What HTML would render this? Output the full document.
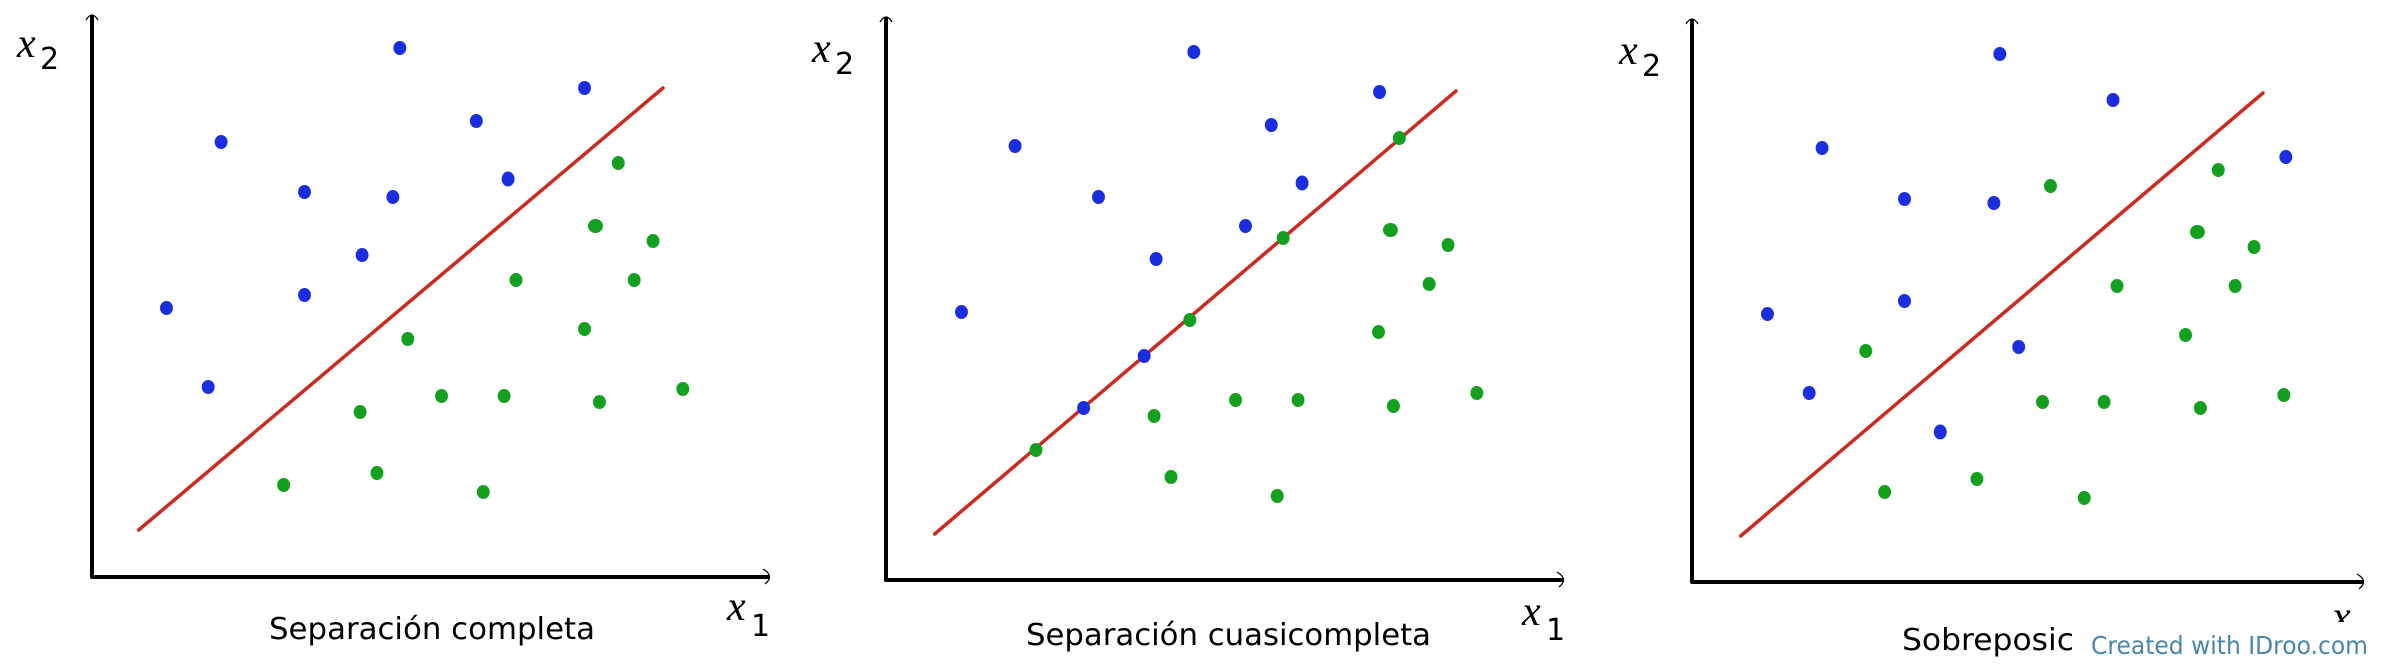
<!DOCTYPE html>
<html><head><meta charset="utf-8"><style>html,body{margin:0;padding:0;background:#fff}svg{display:block}</style></head><body>
<svg width="2382" height="667" viewBox="0 0 2382 667" xmlns="http://www.w3.org/2000/svg">
<g stroke="#000" stroke-width="4" fill="none" stroke-linecap="round">
<path d="M92 577 V17 M92 577 H768"/>
<path d="M886 580 V19 M886 580 H1562"/>
<path d="M1692 582 V21 M1692 582 H2362"/>
</g>
<g stroke="#000" stroke-width="1.3" fill="none">
<path d="M86 20 Q92 10 98 20"/><path d="M763 569 Q775 576 765 584"/>
<path d="M880 22 Q886 12 892 22"/><path d="M1557 572 Q1569 579 1559 587"/>
<path d="M1686 24 Q1692 14 1698 24"/><path d="M2357 574 Q2369 581 2359 589"/>
</g>
<g transform="translate(92 0) scale(0.993 1) translate(-92 0)">
<line x1="139" y1="530" x2="667" y2="88" stroke="#cc2a1e" stroke-width="3.5" stroke-linecap="round"/>
<g fill="#1a2ee0">
<ellipse cx="402" cy="48" rx="6.5" ry="7"/><ellipse cx="588" cy="88" rx="6.5" ry="7"/><ellipse cx="479" cy="121" rx="6.5" ry="7"/><ellipse cx="222" cy="142" rx="6.5" ry="7"/><ellipse cx="511" cy="179" rx="6.5" ry="7.5"/><ellipse cx="306" cy="192" rx="6.5" ry="7"/><ellipse cx="395" cy="197" rx="6.5" ry="7"/><ellipse cx="364" cy="255" rx="6.5" ry="7"/><ellipse cx="306" cy="295" rx="6.5" ry="7"/><ellipse cx="167" cy="308" rx="6.5" ry="7"/><ellipse cx="209" cy="387" rx="6.5" ry="7"/>
</g>
<g fill="#13a01f">
<ellipse cx="622" cy="163" rx="6.5" ry="7"/><ellipse cx="599" cy="226" rx="7.5" ry="7"/><ellipse cx="657" cy="241" rx="6.5" ry="7"/><ellipse cx="519" cy="280" rx="6.5" ry="7"/><ellipse cx="638" cy="280" rx="6.5" ry="7"/><ellipse cx="588" cy="329" rx="6.5" ry="7"/><ellipse cx="410" cy="339" rx="6.5" ry="7"/><ellipse cx="444" cy="396" rx="6.5" ry="7"/><ellipse cx="507" cy="396" rx="6.5" ry="7"/><ellipse cx="603" cy="402" rx="6.5" ry="7"/><ellipse cx="687" cy="389" rx="6.5" ry="7"/><ellipse cx="362" cy="412" rx="6.5" ry="7"/><ellipse cx="285" cy="485" rx="6.5" ry="7"/><ellipse cx="379" cy="473" rx="6.5" ry="7"/><ellipse cx="486" cy="492" rx="6.5" ry="7"/>
</g>
</g>
<g transform="translate(886 0) scale(0.993 1) translate(-886 0)">
<line x1="935" y1="534" x2="1460" y2="91" stroke="#cc2a1e" stroke-width="3.5" stroke-linecap="round"/>
<g fill="#1a2ee0">
<ellipse cx="1196" cy="52" rx="6.5" ry="7"/><ellipse cx="1383" cy="92" rx="6.5" ry="7"/><ellipse cx="1274" cy="125" rx="6.5" ry="7"/><ellipse cx="1016" cy="146" rx="6.5" ry="7"/><ellipse cx="1305" cy="183" rx="6.5" ry="7.5"/><ellipse cx="1100" cy="197" rx="6.5" ry="7"/><ellipse cx="1248" cy="226" rx="6.5" ry="7"/><ellipse cx="1158" cy="259" rx="6.5" ry="7"/><ellipse cx="962" cy="312" rx="6.5" ry="7"/><ellipse cx="1146" cy="356" rx="6.5" ry="7"/><ellipse cx="1085" cy="408" rx="6.5" ry="7"/>
</g>
<g fill="#13a01f">
<ellipse cx="1403" cy="138" rx="6.5" ry="7"/><ellipse cx="1286" cy="238" rx="6.5" ry="7"/><ellipse cx="1394" cy="230" rx="7.5" ry="7"/><ellipse cx="1452" cy="245" rx="6.5" ry="7"/><ellipse cx="1433" cy="284" rx="6.5" ry="7"/><ellipse cx="1382" cy="332" rx="6.5" ry="7"/><ellipse cx="1192" cy="320" rx="6.5" ry="7"/><ellipse cx="1238" cy="400" rx="6.5" ry="7"/><ellipse cx="1301" cy="400" rx="6.5" ry="7"/><ellipse cx="1397" cy="406" rx="6.5" ry="7"/><ellipse cx="1481" cy="393" rx="6.5" ry="7"/><ellipse cx="1156" cy="416" rx="6.5" ry="7"/><ellipse cx="1037" cy="450" rx="6.5" ry="7"/><ellipse cx="1173" cy="477" rx="6.5" ry="7"/><ellipse cx="1280" cy="496" rx="6.5" ry="7"/>
</g>
</g>
<g transform="translate(1692 0) scale(0.993 1) translate(-1692 0)">
<line x1="1741" y1="536" x2="2267" y2="93" stroke="#cc2a1e" stroke-width="3.5" stroke-linecap="round"/>
<g fill="#1a2ee0">
<ellipse cx="2002" cy="54" rx="6.5" ry="7"/><ellipse cx="2116" cy="100" rx="6.5" ry="7"/><ellipse cx="1823" cy="148" rx="6.5" ry="7"/><ellipse cx="1906" cy="199" rx="6.5" ry="7"/><ellipse cx="1996" cy="203" rx="6.5" ry="7"/><ellipse cx="2290" cy="157" rx="6.5" ry="7"/><ellipse cx="1906" cy="301" rx="6.5" ry="7"/><ellipse cx="1768" cy="314" rx="6.5" ry="7"/><ellipse cx="2021" cy="347" rx="6.5" ry="7"/><ellipse cx="1810" cy="393" rx="6.5" ry="7"/><ellipse cx="1942" cy="432" rx="6.5" ry="7.5"/>
</g>
<g fill="#13a01f">
<ellipse cx="2053" cy="186" rx="6.5" ry="7"/><ellipse cx="2222" cy="170" rx="6.5" ry="7"/><ellipse cx="2201" cy="232" rx="7.5" ry="7"/><ellipse cx="2258" cy="247" rx="6.5" ry="7"/><ellipse cx="2120" cy="286" rx="6.5" ry="7"/><ellipse cx="2239" cy="286" rx="6.5" ry="7"/><ellipse cx="2189" cy="335" rx="6.5" ry="7"/><ellipse cx="1867" cy="351" rx="6.5" ry="7"/><ellipse cx="2045" cy="402" rx="6.5" ry="7"/><ellipse cx="2107" cy="402" rx="6.5" ry="7"/><ellipse cx="2204" cy="408" rx="6.5" ry="7"/><ellipse cx="2288" cy="395" rx="6.5" ry="7"/><ellipse cx="1886" cy="492" rx="6.5" ry="7"/><ellipse cx="1979" cy="479" rx="6.5" ry="7"/><ellipse cx="2087" cy="498" rx="6.5" ry="7"/>
</g>
</g>
<g fill="#000">
<text x="17" y="57" font-family="Liberation Serif, serif" font-style="italic" font-size="42">x</text>
<text x="40" y="69" font-family="DejaVu Sans, sans-serif" font-size="30">2</text>
<text x="727" y="620" font-family="Liberation Serif, serif" font-style="italic" font-size="42">x</text>
<text x="751" y="636" font-family="DejaVu Sans, sans-serif" font-size="30">1</text>
<text x="812" y="62" font-family="Liberation Serif, serif" font-style="italic" font-size="42">x</text>
<text x="835" y="74" font-family="DejaVu Sans, sans-serif" font-size="30">2</text>
<text x="1522" y="625" font-family="Liberation Serif, serif" font-style="italic" font-size="42">x</text>
<text x="1546" y="640" font-family="DejaVu Sans, sans-serif" font-size="30">1</text>
<text x="1619" y="64" font-family="Liberation Serif, serif" font-style="italic" font-size="42">x</text>
<text x="1642" y="76" font-family="DejaVu Sans, sans-serif" font-size="30">2</text>
<text x="2332" y="630" font-family="Liberation Serif, serif" font-style="italic" font-size="42">x</text>
<g font-family="DejaVu Sans, sans-serif" font-size="30">
<text x="269" y="639" textLength="326" lengthAdjust="spacingAndGlyphs">Separación completa</text>
<text x="1026" y="645" textLength="405" lengthAdjust="spacingAndGlyphs">Separación cuasicompleta</text>
<text x="1902" y="650" textLength="172" lengthAdjust="spacingAndGlyphs">Sobreposic</text>
</g>
</g>
<rect x="2084" y="622" width="298" height="45" fill="#fff"/>
<text x="2091" y="654" font-family="DejaVu Sans, sans-serif" font-size="25" fill="#4a86a8" textLength="277" lengthAdjust="spacingAndGlyphs">Created with IDroo.com</text>
</svg>
</body></html>
